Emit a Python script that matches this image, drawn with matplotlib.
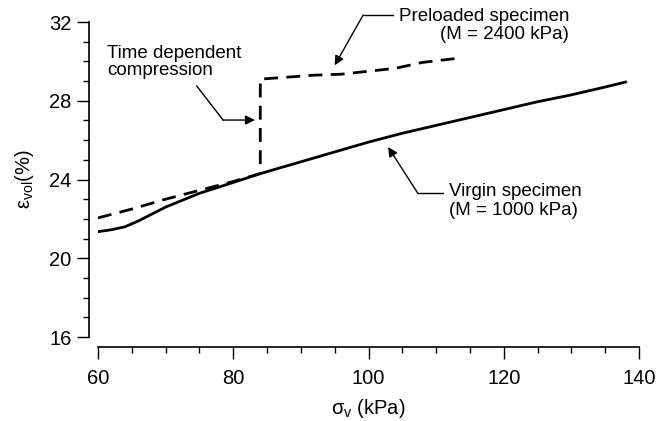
import numpy as np
import matplotlib
matplotlib.use("Agg")
import matplotlib.pyplot as plt
from matplotlib.ticker import MultipleLocator

plt.rcParams['font.family'] = ['Liberation Sans', 'DejaVu Sans']
plt.rcParams['mathtext.fontset'] = 'custom'
plt.rcParams['mathtext.rm'] = 'Liberation Sans'
plt.rcParams['mathtext.it'] = 'Liberation Sans:italic'

# virgin specimen (solid)
sv_virgin = [60, 62, 64, 66, 68, 70, 75, 80, 84, 90, 95, 100, 105, 110, 115, 120, 125, 130, 135, 138]
ev_virgin = [21.35, 21.45, 21.6, 21.9, 22.25, 22.6, 23.3, 23.85, 24.3, 24.9, 25.4, 25.9,
             26.35, 26.75, 27.15, 27.55, 27.95, 28.3, 28.7, 28.95]

# preloaded specimen (dashed), creep step at 84 kPa
sv_pre = [60, 65, 70, 75, 80, 84, 84, 88, 92, 96, 100, 104, 108, 113]
ev_pre = [22.05, 22.5, 23.0, 23.45, 23.9, 24.3, 29.1, 29.2, 29.3, 29.35, 29.5, 29.65, 29.95, 30.15]

fig = plt.figure(figsize=(6.68, 4.21), dpi=100)
ax = fig.add_axes([0.1467, 0.1995, 0.8099, 0.7482])

ax.plot(sv_virgin, ev_virgin, color='black', lw=2.0)
ax.plot(sv_pre, ev_pre, color='black', lw=2.0, dashes=(5, 3))

ax.set_xlim(60, 140)
ax.set_ylim(16, 32)
ax.xaxis.set_major_locator(MultipleLocator(20))
ax.xaxis.set_minor_locator(MultipleLocator(5))
ax.yaxis.set_major_locator(MultipleLocator(4))
ax.yaxis.set_minor_locator(MultipleLocator(1))

for s in ['top', 'right']:
    ax.spines[s].set_visible(False)
ax.spines['left'].set_position(('outward', 6.5))
ax.spines['bottom'].set_position(('outward', 7.2))
for s in ['left', 'bottom']:
    ax.spines[s].set_linewidth(1.2)

ax.tick_params(which='major', direction='out', length=8.5, width=1.0, labelsize=14.5, pad=4)
ax.tick_params(which='minor', direction='out', length=4.5, width=1.0)
ax.tick_params(axis='x', which='major', pad=7)

ax.set_xlabel(r'$\mathrm{σ_v}$ (kPa)', fontsize=14.5)
ax.set_ylabel(r'$\mathrm{ε_{vol}}$(%)', fontsize=14.5)
ax.xaxis.set_label_coords(0.5, -0.19)
ax.yaxis.set_label_coords(-0.115, 0.5)

arrow = dict(arrowstyle='-|>', color='black', lw=1.0, mutation_scale=14, shrinkA=0, shrinkB=0)

# time dependent compression
ax.text(61.3, 30.85, 'Time dependent\ncompression', fontsize=13.5, ha='left', va='top', linespacing=1.05)
ax.plot([74.6, 78.5], [28.75, 27.02], color='black', lw=1.0)
ax.annotate('', xy=(83.2, 27.02), xytext=(78.5, 27.02), arrowprops=arrow)

# preloaded specimen
ax.text(129.7, 32.72, 'Preloaded specimen\n(M = 2400 kPa)', fontsize=13.5, ha='right', va='top',
        linespacing=1.1, multialignment='right')
ax.plot([103.6, 99.2], [32.35, 32.35], color='black', lw=1.0, clip_on=False)
ax.annotate('', xy=(95.0, 29.8), xytext=(99.2, 32.35), arrowprops=arrow, annotation_clip=False)

# virgin specimen
ax.text(111.9, 23.8, 'Virgin specimen\n(M = 1000 kPa)', fontsize=13.5, ha='left', va='top',
        linespacing=1.15)
ax.plot([111.0, 107.3], [23.3, 23.3], color='black', lw=1.0)
ax.annotate('', xy=(102.9, 25.65), xytext=(107.3, 23.3), arrowprops=arrow)

fig.savefig('out.png', dpi=100)
